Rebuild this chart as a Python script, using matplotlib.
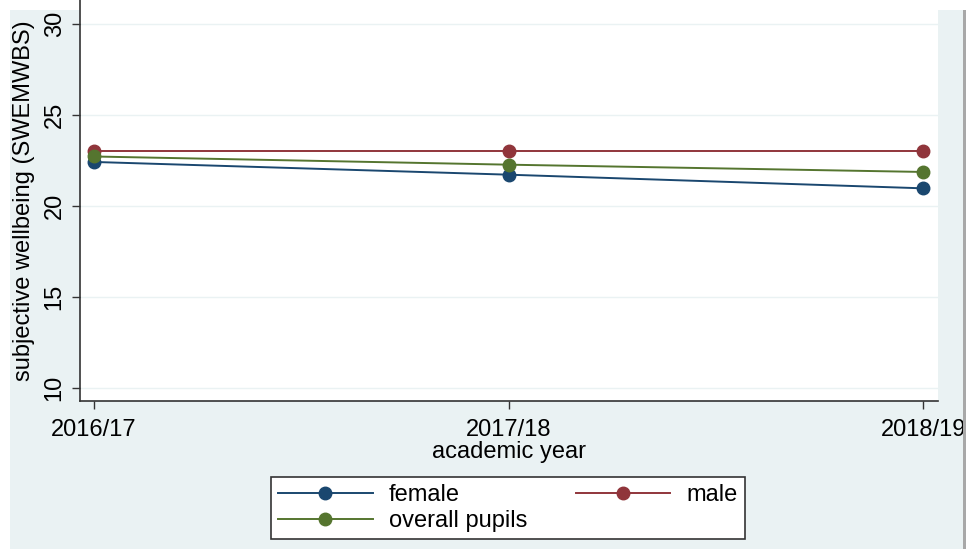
import matplotlib.pyplot as plt
from matplotlib.patches import Rectangle

# academic years on the x axis
years = ['2016/17', '2017/18', '2018/19']
female = [22.4, 21.7, 20.95]
male = [23.0, 23.0, 23.0]
overall = [22.7, 22.25, 21.85]

plt.rcParams['font.family'] = ['Liberation Sans', 'DejaVu Sans']

W, H = 976, 549
fig = plt.figure(figsize=(W / 100, H / 100), dpi=100)
fig.patch.set_facecolor('white')

# Stata-like light background panel, grey border on the right drawn on top
fig.patches.append(Rectangle((10 / W, 0), (963 - 10) / W, (H - 10) / H,
                             transform=fig.transFigure, facecolor='#eaf2f3',
                             edgecolor='none', zorder=-2))
fig.patches.append(Rectangle((963 / W, 0), 3 / W, (H - 10) / H,
                             transform=fig.transFigure, facecolor='#a8a8a8',
                             edgecolor='none', zorder=10))
fig.patches.append(Rectangle((966 / W, 0), 10 / W, 1,
                             transform=fig.transFigure, facecolor='white',
                             edgecolor='none', zorder=10))

ax = fig.add_axes([79.5 / W, (H - 400.5) / H, (938 - 79.5) / W, 400.5 / H])
ax.set_facecolor('white')

x = list(range(len(years)))
l_f, = ax.plot(x, female, color='#1a476f', lw=1.4, marker='o', ms=9, label='female', zorder=3)
l_m, = ax.plot(x, male, color='#90353b', lw=1.4, marker='o', ms=9, label='male', zorder=3)
l_o, = ax.plot(x, overall, color='#55752f', lw=1.4, marker='o', ms=9, label='overall pupils', zorder=3)

ax.set_xlim(-0.035, 2.036)
ax.set_ylim(9.29, 31.3)
ax.set_yticks([10, 15, 20, 25, 30])
ax.set_xticks(x)
ax.set_xticklabels(years, fontsize=17)
ax.set_yticklabels(['10', '15', '20', '25', '30'], fontsize=17, rotation=90, va='center')
ax.tick_params(axis='both', direction='out', length=6, width=1, color='#333333', pad=4)
ax.tick_params(axis='x', pad=7)
ax.grid(axis='y', color='#eaf2f3', lw=1, zorder=1)

for side in ['top', 'right']:
    ax.spines[side].set_visible(False)
for side in ['left', 'bottom']:
    ax.spines[side].set_color('#333333')
    ax.spines[side].set_linewidth(1.2)

ax.set_xlabel('academic year', fontsize=17, labelpad=0)
ax.set_ylabel('subjective wellbeing (SWEMWBS)', fontsize=17, labelpad=6)

leg = fig.legend([l_f, l_o, l_m], ['female', 'overall pupils', 'male'],
                 ncol=2, loc='lower left', mode='expand',
                 bbox_to_anchor=(271 / W, 10 / H, (745 - 271) / W, (539 - 472) / H),
                 fontsize=17, handlelength=4.0, handletextpad=0.7, frameon=True,
                 fancybox=False, framealpha=1, borderaxespad=0, labelspacing=0.15,
                 columnspacing=2, borderpad=0.3)
leg.get_frame().set_edgecolor('#333333')
leg.get_frame().set_linewidth(1.2)
leg.get_frame().set_facecolor('white')

fig.savefig('out.png', dpi=100, facecolor=fig.get_facecolor())
